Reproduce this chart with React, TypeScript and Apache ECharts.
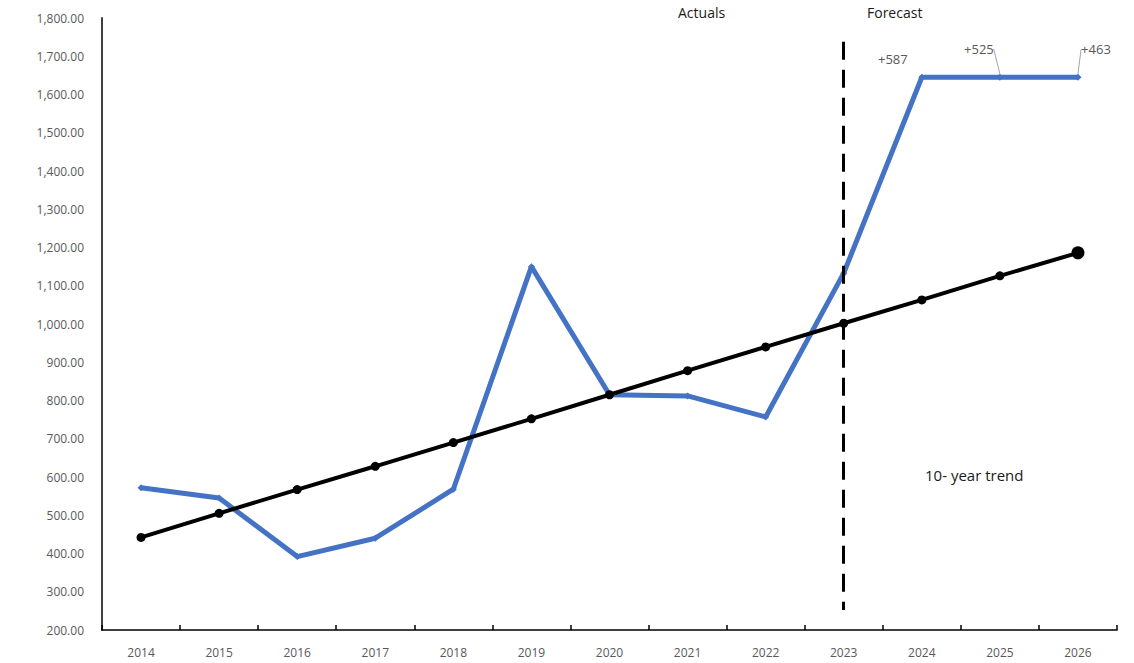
import React, { useEffect, useRef } from "react";
import * as echarts from "echarts";

const years = ["2014", "2015", "2016", "2017", "2018", "2019", "2020", "2021", "2022", "2023", "2024", "2025", "2026"];
const actualsForecast = [572, 545, 392, 440, 568, 1150, 815, 812, 757, 1133, 1645, 1645, 1645];
const trendValues = [442, 505, 567, 628, 690, 752, 815, 878, 940, 1002, 1063, 1126, 1186];
const forecastLabels: Record<number, string> = { 10: "+587", 11: "+525", 12: "+463" };
const leaderLines: Record<number, boolean> = { 10: false, 11: true, 12: true };
const yTicks = { min: 200, max: 1800, interval: 100 };
const dividerYear = "2023";
const dividerRange = [1738, 252];

const labelOffsets: Record<number, [number, number]> = {
  10: [-29, -3],
  11: [-21, -13],
  12: [18, -13],
};

export default function App() {
  const ref = useRef<HTMLDivElement>(null);
  useEffect(() => {
    document.body.style.margin = "0";
    const chart = echarts.init(ref.current!, undefined, { renderer: "svg" });
    const font = "'Open Sans', 'Noto Sans', sans-serif";
    const blueData = actualsForecast.map((v, i) =>
      forecastLabels[i]
        ? {
            value: v,
            label: {
              show: true,
              position: "top",
              formatter: forecastLabels[i],
              color: "#595959",
              fontSize: 13,
              fontFamily: font,
            },
            labelLine: { show: leaderLines[i], lineStyle: { color: "#a6a6a6", width: 1 } },
          }
        : v
    );
    const trendData = trendValues.map((v, i) =>
      i === trendValues.length - 1 ? { value: v, symbolSize: 13 } : v
    );
    chart.setOption({
      animation: false,
      grid: { left: 102, right: 17, top: 18, bottom: 33 },
      xAxis: {
        type: "category",
        data: years,
        boundaryGap: true,
        axisLine: { lineStyle: { color: "#000", width: 1.5 } },
        axisTick: { show: true, inside: true, length: 5, lineStyle: { color: "#000", width: 1.5 } },
        axisLabel: { color: "#595959", fontSize: 12, fontFamily: font, margin: 16 },
        splitLine: { show: false },
      },
      yAxis: {
        type: "value",
        min: yTicks.min,
        max: yTicks.max,
        interval: yTicks.interval,
        axisLine: { show: true, lineStyle: { color: "#404040", width: 2 } },
        axisTick: { show: false },
        splitLine: { show: false },
        axisLabel: {
          color: "#595959",
          fontSize: 12,
          fontFamily: font,
          margin: 18,
          formatter: (v: number) =>
            v.toLocaleString("en-US", { minimumFractionDigits: 2, maximumFractionDigits: 2 }),
        },
      },
      series: [
        {
          name: "Actuals / Forecast",
          type: "line",
          data: blueData,
          symbol: "diamond",
          symbolSize: 7,
          itemStyle: { color: "#4472C4" },
          lineStyle: { color: "#4472C4", width: 5 },
          labelLine: { show: false, lineStyle: { color: "#a6a6a6", width: 1 } },
          labelLayout: (p: any) => {
            const off = labelOffsets[p.dataIndex];
            return off ? { dx: off[0], dy: off[1] } : {};
          },
          markLine: {
            silent: true,
            symbol: "none",
            label: { show: false },
            lineStyle: { color: "#000", type: [18, 10], width: 3 },
            data: [
              [
                { coord: [dividerYear, dividerRange[0]] },
                { coord: [dividerYear, dividerRange[1]] },
              ],
            ],
          },
        },
        {
          name: "10- year trend",
          type: "line",
          data: trendData,
          symbol: "circle",
          symbolSize: 9,
          itemStyle: { color: "#000" },
          lineStyle: { color: "#000", width: 4 },
        },
      ],
      graphic: [
        { type: "text", left: 678, top: 5, style: { text: "Actuals", fontSize: 14, fontFamily: font, fill: "#1a1a1a" } },
        { type: "text", left: 867, top: 5, style: { text: "Forecast", fontSize: 14, fontFamily: font, fill: "#1a1a1a" } },
        { type: "text", left: 925, top: 467, style: { text: "10- year trend", fontSize: 15, fontFamily: font, fill: "#1a1a1a" } },
      ],
    });
    return () => chart.dispose();
  }, []);
  return <div ref={ref} style={{ position: "fixed", left: 0, top: 0, width: 1134, height: 663, background: "#fff" }} />;
}
